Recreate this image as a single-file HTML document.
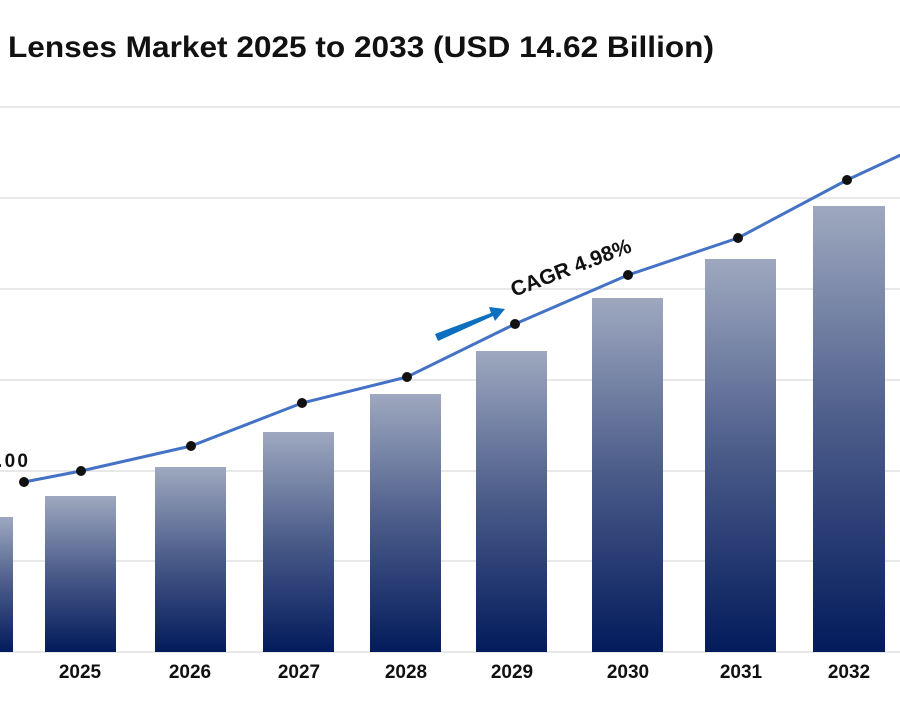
<!DOCTYPE html>
<html><head><style>
body{margin:0;width:900px;height:700px;background:#fff;overflow:hidden}
svg text{font-family:"Liberation Sans",sans-serif;font-weight:bold;fill:#111}
</style></head><body>
<svg width="900" height="700" viewBox="0 0 900 700">
<defs>
<linearGradient id="g" x1="0" y1="0" x2="0" y2="1">
<stop offset="0" stop-color="#9ea8bf"/><stop offset="0.5" stop-color="#4a5b89"/><stop offset="1" stop-color="#031b5c"/>
</linearGradient>
</defs>
<text x="8" y="57" font-size="30" textLength="706" lengthAdjust="spacingAndGlyphs">Lenses Market 2025 to 2033 (USD 14.62 Billion)</text>
<g stroke="#dadada" stroke-width="1.2">
<line x1="0" y1="107" x2="900" y2="107"/><line x1="0" y1="198" x2="900" y2="198"/>
<line x1="0" y1="289" x2="900" y2="289"/><line x1="0" y1="380" x2="900" y2="380"/>
<line x1="0" y1="471" x2="900" y2="471"/><line x1="0" y1="561" x2="900" y2="561"/>
<line x1="0" y1="652" x2="900" y2="652"/>
</g>
<g fill="url(#g)">
<rect x="-60" y="517" width="73" height="135"/>
<rect x="45" y="496" width="71" height="156"/>
<rect x="155" y="467" width="71" height="185"/>
<rect x="263" y="432" width="71" height="220"/>
<rect x="370" y="394" width="71" height="258"/>
<rect x="476" y="351" width="71" height="301"/>
<rect x="592" y="298" width="71" height="354"/>
<rect x="705" y="259" width="71" height="393"/>
<rect x="813" y="206" width="72" height="446"/>
</g>
<polyline points="24,482 81,471 191,446 302,403 407,377 515,324 628,275 738,238 847,180 905,153" fill="none" stroke="#4472c4" stroke-width="3"/>
<g fill="#111">
<circle cx="24" cy="482" r="5"/><circle cx="81" cy="471" r="5"/><circle cx="191" cy="446" r="5"/>
<circle cx="302" cy="403" r="5"/><circle cx="407" cy="377" r="5"/><circle cx="515" cy="324" r="5"/>
<circle cx="628" cy="275" r="5"/><circle cx="738" cy="238" r="5"/><circle cx="847" cy="180" r="5"/>
</g>
<text x="-3" y="467" font-size="19" textLength="31">.00</text>
<polygon points="435,334 491,313 489,307 505,309 495,321 493,316 438,341" fill="#0c6fc0"/>
<text x="0" y="0" font-size="21" transform="translate(514,297) rotate(-21)">CAGR 4.98%</text>
<g font-size="19" text-anchor="middle">
<text x="80" y="678">2025</text><text x="190" y="678">2026</text><text x="299" y="678">2027</text>
<text x="406" y="678">2028</text><text x="512" y="678">2029</text><text x="628" y="678">2030</text>
<text x="741" y="678">2031</text><text x="849" y="678">2032</text>
</g>
</svg>
</body></html>
